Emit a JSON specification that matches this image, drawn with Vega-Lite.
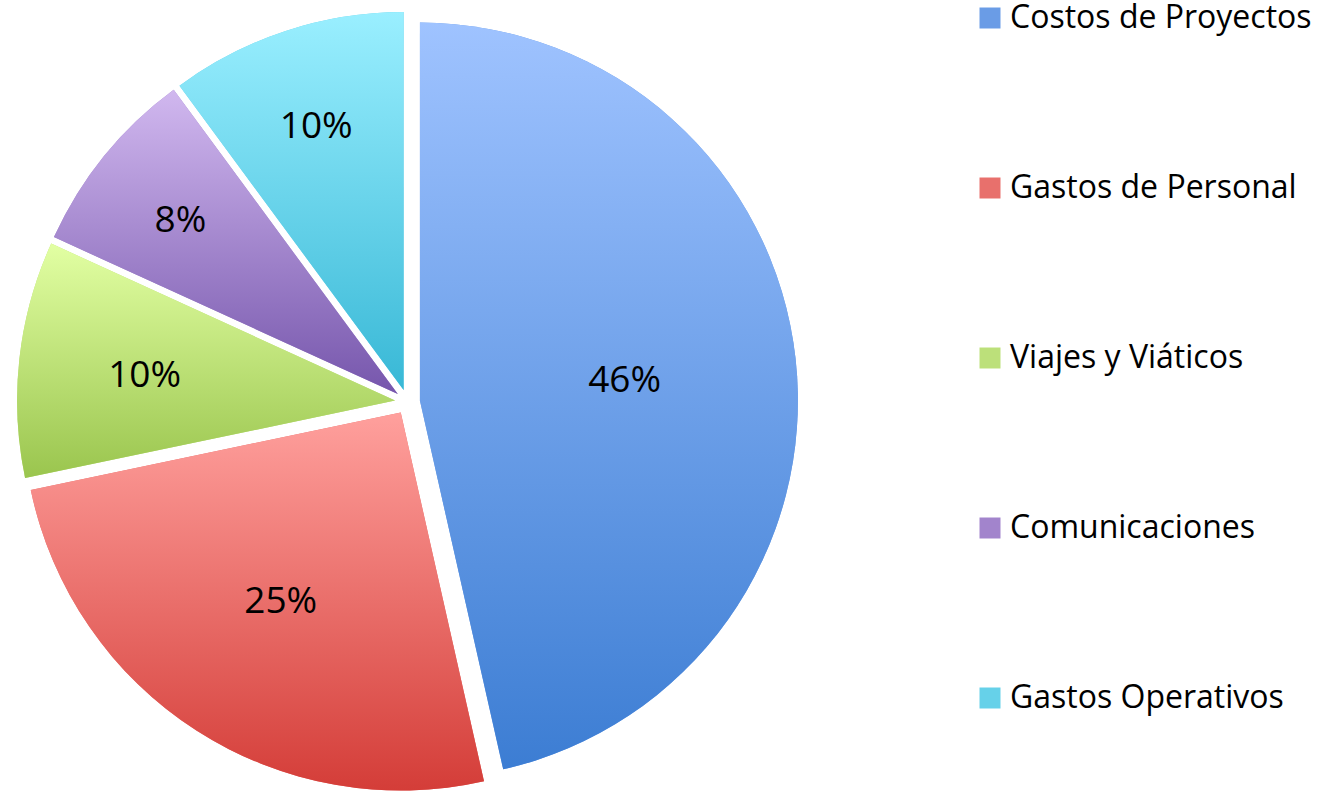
{
  "$schema": "https://vega.github.io/schema/vega-lite/v6.json",
  "width": 815,
  "height": 782,
  "autosize": {"type": "none"},
  "padding": {"left": 0, "top": 11, "right": 511, "bottom": 0},
  "background": "white",
  "config": {
    "view": {"stroke": null},
    "legend": {
      "orient": "none",
      "legendX": 974,
      "legendY": -9,
      "title": null,
      "symbolType": "square",
      "symbolSize": 441,
      "symbolStrokeWidth": 0,
      "labelFont": "Open Sans",
      "labelFontSize": 32,
      "labelColor": "black",
      "labelOffset": 4,
      "rowPadding": 138,
      "labelLimit": 400
    }
  },
  "data": {
    "values": [
      {"category": "Costos de Proyectos", "value": 46, "label": "46%"},
      {"category": "Gastos de Personal", "value": 25, "label": "25%"},
      {"category": "Viajes y Viáticos", "value": 10, "label": "10%"},
      {"category": "Comunicaciones", "value": 8, "label": "8%"},
      {"category": "Gastos Operativos", "value": 10, "label": "10%"}
    ]
  },
  "transform": [
    {"joinaggregate": [{"op": "sum", "field": "value", "as": "total"}]},
    {"window": [{"op": "row_number", "as": "i"}]}
  ],
  "encoding": {
    "theta": {"field": "value", "type": "quantitative", "stack": true},
    "order": {"field": "i", "type": "quantitative"}
  },
  "layer": [
    {
      "mark": {
        "type": "arc",
        "radius": 378,
        "xOffset": {"expr": "12.5*sin(PI*(datum.value_start+datum.value_end)/datum.total)"},
        "yOffset": {"expr": "-12.5*cos(PI*(datum.value_start+datum.value_end)/datum.total)"}
      },
      "encoding": {
        "color": {
          "field": "category",
          "type": "nominal",
          "sort": null,
          "scale": {
            "domain": ["Costos de Proyectos", "Gastos de Personal", "Viajes y Viáticos", "Comunicaciones", "Gastos Operativos"],
            "range": ["#6A9CE6", "#E8706C", "#BCE07A", "#A284CC", "#66D1E9"]
          }
        }
      }
    },
    {
      "mark": {
        "type": "arc",
        "radius": 378,
        "xOffset": {"expr": "12.5*sin(PI*(datum.value_start+datum.value_end)/datum.total)"},
        "yOffset": {"expr": "-12.5*cos(PI*(datum.value_start+datum.value_end)/datum.total)"},
        "fill": {"expr": "datum.category == 'Costos de Proyectos' ? {gradient: 'linear', x1: 0, y1: 0, x2: 0, y2: 1, stops: [{offset: 0, color: '#9FC3FF'}, {offset: 1, color: '#3C7DD3'}]} : datum.category == 'Gastos de Personal' ? {gradient: 'linear', x1: 0, y1: 0, x2: 0, y2: 1, stops: [{offset: 0, color: '#FFA09D'}, {offset: 1, color: '#D43D38'}]} : datum.category == 'Viajes y Viáticos' ? {gradient: 'linear', x1: 0, y1: 0, x2: 0, y2: 1, stops: [{offset: 0, color: '#E2FFA3'}, {offset: 1, color: '#9AC54E'}]} : datum.category == 'Comunicaciones' ? {gradient: 'linear', x1: 0, y1: 0, x2: 0, y2: 1, stops: [{offset: 0, color: '#D1B8EF'}, {offset: 1, color: '#7656AC'}]} : {gradient: 'linear', x1: 0, y1: 0, x2: 0, y2: 1, stops: [{offset: 0, color: '#9AEFFF'}, {offset: 1, color: '#38B8D6'}]}"}
      },
      "encoding": {}
    },
    {
      "mark": {
        "type": "text",
        "font": "Open Sans",
        "fontSize": 37,
        "color": "black",
        "align": "center",
        "baseline": "middle",
        "dy": 3,
        "radius": {"expr": "datum.i == 1 ? 206 : (datum.i == 2 ? 222 : (datum.i == 3 ? 252 : 280))"},
        "xOffset": {"expr": "12.5*sin(PI*(datum.value_start+datum.value_end)/datum.total)"},
        "yOffset": {"expr": "-12.5*cos(PI*(datum.value_start+datum.value_end)/datum.total)"}
      },
      "encoding": {
        "text": {"field": "label", "type": "nominal"}
      }
    }
  ]
}
